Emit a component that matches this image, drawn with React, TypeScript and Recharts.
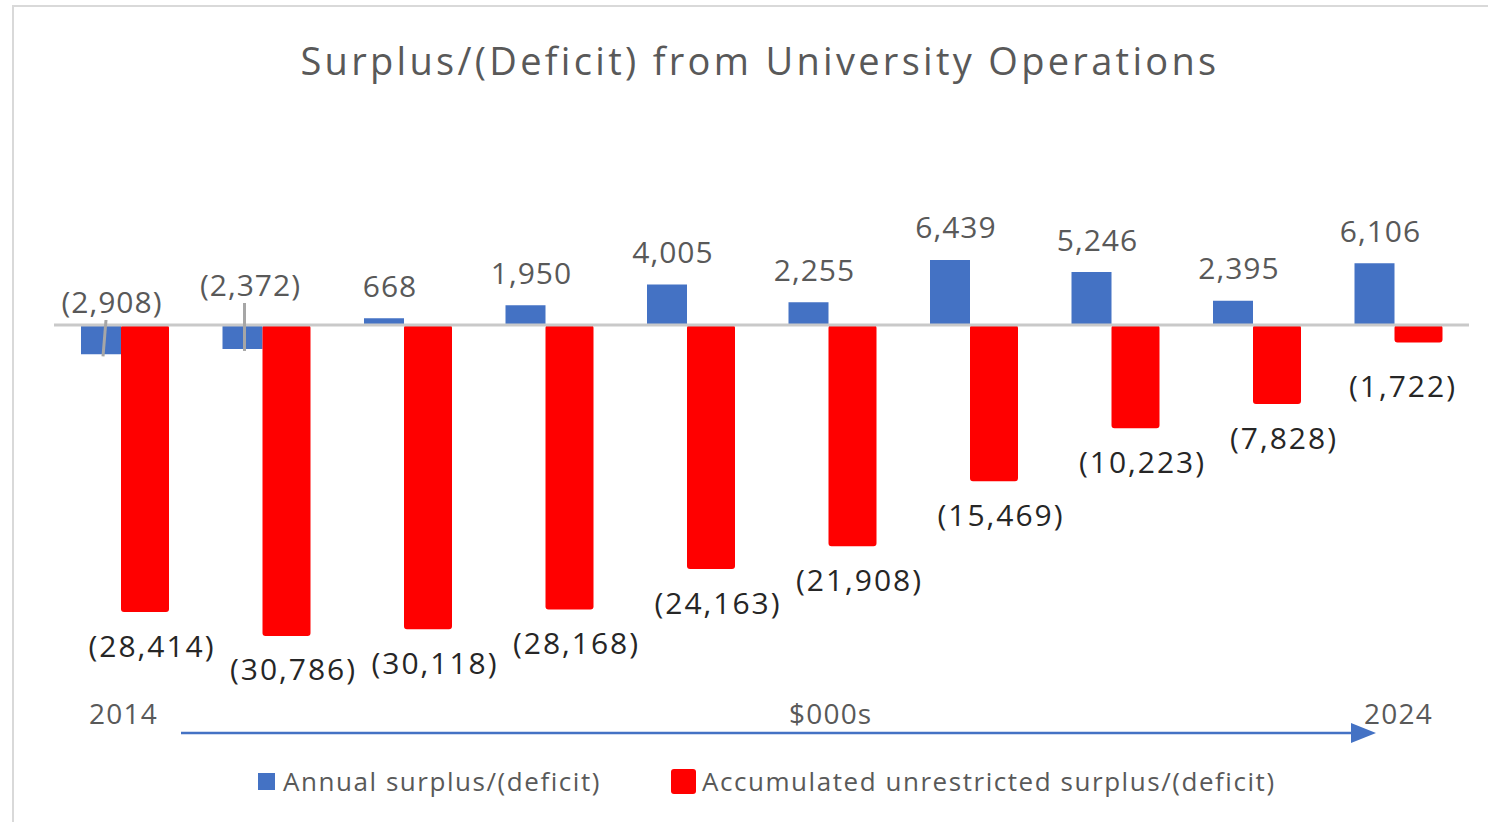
import React from 'react';
import { BarChart, Bar, XAxis, YAxis, ReferenceLine, LabelList } from 'recharts';

// fiscal years, 2014 -> 2024
const years = ['2014/15', '2015/16', '2016/17', '2017/18', '2018/19', '2019/20', '2020/21', '2021/22', '2022/23', '2023/24'];
// $000s
const annual = [-2908, -2372, 668, 1950, 4005, 2255, 6439, 5246, 2395, 6106];
const accumulated = [-28414, -30786, -30118, -28168, -24163, -21908, -15469, -10223, -7828, -1722];

const chartData = years.map((year, i) => ({ year, annual: annual[i], accumulated: accumulated[i] }));

const FONT = '"Open Sans", "Noto Sans", sans-serif';
const BLUE = '#4472C4';
const RED = '#FF0000';
const GREY_TEXT = '#595959';

// hand-moved labels on the two negative annual bars (like the Excel original)
const negLabelNudge: Record<number, { dx: number; dy: number; lineDx: number }> = {
  0: { dx: 11, dy: -23, lineDx: 5 },
  1: { dx: 8, dy: -40, lineDx: 2 },
};
// last accumulated label sits a bit lower
const accumLabelDrop: Record<number, number> = { 9: 10 };

const fmt = (v: number) => {
  const s = Math.abs(v).toLocaleString('en-US');
  return v < 0 ? `(${s})` : s;
};

const AnnualLabel = (props: any) => {
  const { x, y, width, height, value, index } = props;
  const top = Math.min(y, y + height);
  const bottom = Math.max(y, y + height);
  const cx = x + width / 2;
  const textProps = { textAnchor: 'middle' as const, fontFamily: FONT, fontSize: 30, fill: GREY_TEXT, letterSpacing: 1 };
  if (value >= 0) {
    return (
      <text x={cx + 6} y={top - 32} dy="0.35em" {...textProps}>
        {fmt(value)}
      </text>
    );
  }
  const n = negLabelNudge[index] ?? { dx: 8, dy: -30, lineDx: 2 };
  return (
    <g>
      <line x1={cx + n.lineDx} y1={top + n.dy + 18} x2={cx + 2} y2={bottom + 2} stroke="#a6a6a6" strokeWidth={3} />
      <text x={cx + n.dx} y={top + n.dy} dy="0.35em" {...textProps}>
        {fmt(value)}
      </text>
    </g>
  );
};

const AccumLabel = (props: any) => {
  const { x, y, width, height, value, index } = props;
  const bottom = Math.max(y, y + height);
  const cx = Math.min(x + width / 2 + 7, 1403);
  return (
    <text x={cx} y={bottom + 34 + (accumLabelDrop[index] ?? 0)} dy="0.35em" textAnchor="middle" fontFamily={FONT} fontSize={30} fill="#262626" letterSpacing={2}>
      {fmt(value)}
    </text>
  );
};

const App: React.FC = () => {
  return (
    <div style={{ position: 'absolute', left: 0, top: 0, width: 1488, height: 822, background: '#fff', overflow: 'hidden', fontFamily: FONT }}>
      <div style={{ position: 'absolute', left: 12, top: 5, width: 1490, height: 830, border: '2px solid #d9d9d9', boxSizing: 'border-box' }} />
      <div style={{ position: 'absolute', left: 0, width: 1520, top: 36, textAlign: 'center', fontSize: 38, color: GREY_TEXT, lineHeight: '48px', letterSpacing: 3.3 }}>
        Surplus/(Deficit) from University Operations
      </div>

      <div style={{ position: 'absolute', left: 0, top: 0 }}>
        <BarChart width={1488} height={822} data={chartData} margin={{ top: 225, right: 19, bottom: 147, left: 54 }} barGap={0}>
          <XAxis dataKey="year" hide />
          <YAxis type="number" domain={[-34650, 9900]} allowDataOverflow hide />
          <Bar dataKey="annual" fill={BLUE} barSize={40} isAnimationActive={false}>
            <LabelList dataKey="annual" content={AnnualLabel} />
          </Bar>
          <Bar dataKey="accumulated" fill={RED} barSize={48} radius={3} isAnimationActive={false}>
            <LabelList dataKey="accumulated" content={AccumLabel} />
          </Bar>
          <ReferenceLine y={0} stroke="#c9c9c9" strokeWidth={3} />
        </BarChart>
      </div>

      {/* period axis under the bars */}
      <div style={{ position: 'absolute', left: 89, top: 695, fontSize: 28, color: GREY_TEXT, lineHeight: '36px', letterSpacing: 1.2 }}>2014</div>
      <div style={{ position: 'absolute', left: 789, top: 695, fontSize: 28, color: GREY_TEXT, lineHeight: '36px', letterSpacing: 1.2 }}>$000s</div>
      <div style={{ position: 'absolute', left: 1364, top: 695, fontSize: 28, color: GREY_TEXT, lineHeight: '36px', letterSpacing: 1.2 }}>2024</div>
      <svg style={{ position: 'absolute', left: 0, top: 0 }} width={1488} height={822}>
        <line x1={181} y1={733} x2={1356} y2={733} stroke={BLUE} strokeWidth={2.5} />
        <polygon points="1351,723 1376,733 1351,743" fill={BLUE} />
      </svg>

      {/* legend */}
      <div style={{ position: 'absolute', left: 258, top: 762, display: 'flex', alignItems: 'center', fontSize: 26, color: GREY_TEXT, lineHeight: '38px', letterSpacing: 1.55 }}>
        <span style={{ width: 17, height: 17, background: BLUE, display: 'inline-block', marginRight: 8 }} />
        <span>Annual surplus/(deficit)</span>
        <span style={{ width: 25, height: 25, background: RED, borderRadius: 3, display: 'inline-block', marginLeft: 70, marginRight: 6 }} />
        <span>Accumulated unrestricted surplus/(deficit)</span>
      </div>
    </div>
  );
};

export default App;
